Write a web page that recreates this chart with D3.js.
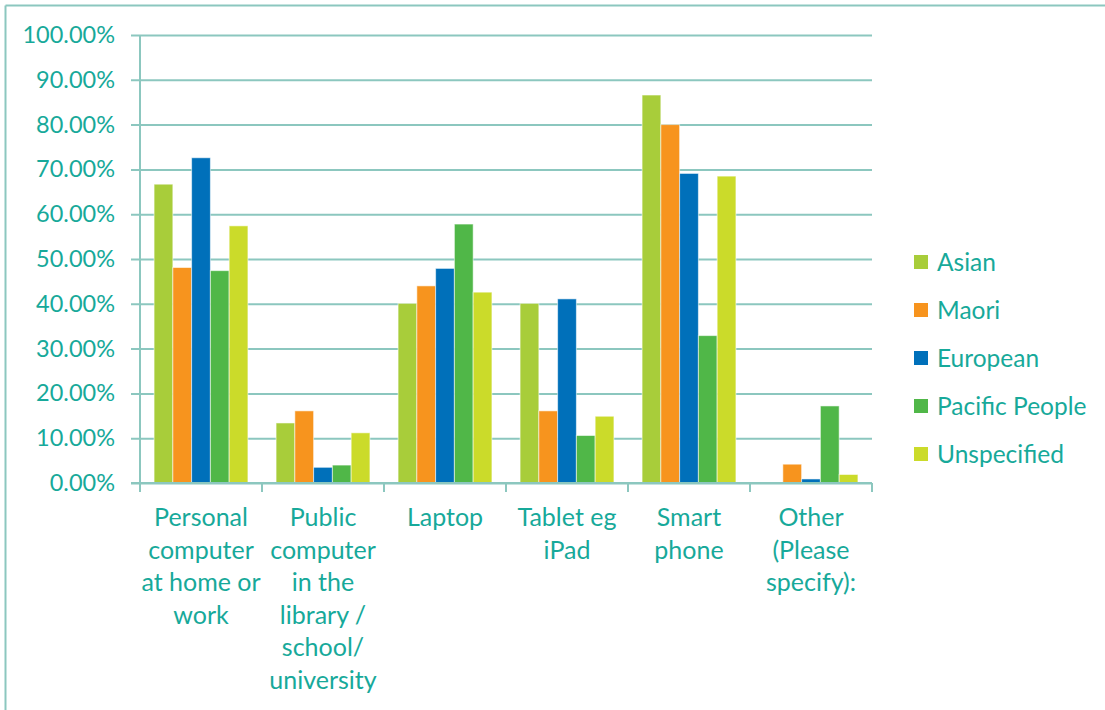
<!DOCTYPE html>
<html>
<head>
<meta charset="utf-8">
<script src="https://cdn.jsdelivr.net/npm/d3@7"></script>
<style>
  html, body { margin: 0; padding: 0; background: #fff; }
  svg { display: block; }
  text { font-family: Lato, "Open Sans", sans-serif; fill: #17A99A; }
</style>
</head>
<body>
<svg id="chart" width="1105" height="710"></svg>
<script>
// Device used to access the internet, by ethnicity (share of respondents)
const categories = [
  ["Personal", "computer", "at home or", "work"],
  ["Public", "computer", "in the", "library /", "school/", "university"],
  ["Laptop"],
  ["Tablet eg", "iPad"],
  ["Smart", "phone"],
  ["Other", "(Please", "specify):"]
];
const seriesNames = ["Asian", "Maori", "European", "Pacific People", "Unspecified"];
const seriesColors = ["#A8CD3A", "#F7941E", "#0070BA", "#50B748", "#CBDB2A"];

const asian       = [0.667, 0.134, 0.401, 0.401, 0.866, 0.000];
const maori       = [0.481, 0.161, 0.440, 0.161, 0.800, 0.042];
const european    = [0.726, 0.035, 0.479, 0.411, 0.691, 0.009];
const pacific     = [0.474, 0.040, 0.578, 0.106, 0.329, 0.172];
const unspecified = [0.574, 0.112, 0.426, 0.149, 0.685, 0.019];
const seriesValues = [asian, maori, european, pacific, unspecified];

const yTicks = [0, 0.1, 0.2, 0.3, 0.4, 0.5, 0.6, 0.7, 0.8, 0.9, 1.0];

const svg = d3.select("#chart");
const gridColor = "#8CC7BF";
const textColor = "#17A99A";

// outer frame (top and left edges visible)
svg.append("line").attr("x1", 5.5).attr("x2", 1105).attr("y1", 5.5).attr("y2", 5.5)
  .attr("stroke", gridColor).attr("stroke-width", 2);
svg.append("line").attr("x1", 5.5).attr("x2", 5.5).attr("y1", 5.5).attr("y2", 710)
  .attr("stroke", gridColor).attr("stroke-width", 2);

const plot = { left: 140, right: 872, top: 35, bottom: 483 };

const x0 = d3.scaleBand()
  .domain(d3.range(categories.length))
  .range([plot.left, plot.right])
  .paddingInner(0).paddingOuter(0);

const x1 = d3.scaleBand()
  .domain(d3.range(seriesNames.length))
  .range([0, x0.bandwidth()])
  .paddingInner(0).paddingOuter(0.75);

const y = d3.scaleLinear().domain([0, 1]).range([plot.bottom, plot.top]);

// horizontal gridlines with y axis labels
const yAxis = d3.axisLeft(y)
  .tickValues(yTicks)
  .tickFormat(d => (d * 100).toFixed(2) + "%")
  .tickSize(-(plot.right - plot.left))
  .tickPadding(25);

const gy = svg.append("g").attr("transform", `translate(${plot.left},0)`).call(yAxis);
gy.select(".domain").remove();
gy.selectAll(".tick line")
  .attr("x1", -9)
  .attr("stroke", gridColor).attr("stroke-width", 2);
gy.selectAll(".tick text")
  .attr("font-size", 23.5).attr("fill", textColor)
  .attr("font-family", "Lato, 'Open Sans', sans-serif");

// vertical axis line
svg.append("line")
  .attr("x1", plot.left).attr("x2", plot.left)
  .attr("y1", plot.top).attr("y2", plot.bottom + 9)
  .attr("stroke", gridColor).attr("stroke-width", 2);

// category separator ticks below the baseline
const sepPositions = d3.range(categories.length + 1).map(i =>
  i < categories.length ? x0(i) : x0(categories.length - 1) + x0.bandwidth());
svg.selectAll(".sep").data(sepPositions).enter().append("line")
  .attr("x1", d => d).attr("x2", d => d)
  .attr("y1", plot.bottom).attr("y2", plot.bottom + 9)
  .attr("stroke", gridColor).attr("stroke-width", 2);

// bars
const groups = svg.selectAll(".grp").data(categories.map((c, i) => i)).enter()
  .append("g").attr("transform", i => `translate(${x0(i)},0)`);

groups.selectAll("rect")
  .data(i => seriesValues.map((vals, s) => ({ s, v: vals[i] })))
  .enter().append("rect")
  .attr("x", d => x1(d.s))
  .attr("width", x1.bandwidth())
  .attr("y", d => y(d.v))
  .attr("height", d => y(0) - y(d.v))
  .attr("fill", d => seriesColors[d.s])
  .attr("stroke", "rgba(255,255,255,0.55)")
  .attr("stroke-width", 1);

// baseline redrawn over bars
svg.append("line")
  .attr("x1", plot.left - 9).attr("x2", plot.right)
  .attr("y1", plot.bottom).attr("y2", plot.bottom)
  .attr("stroke", gridColor).attr("stroke-width", 2);

// category labels (multi-line)
const lineH = 32.6;
categories.forEach((lines, i) => {
  const t = svg.append("text")
    .attr("text-anchor", "middle")
    .attr("font-size", 25)
    .attr("fill", textColor);
  lines.forEach((ln, k) => {
    t.append("tspan")
      .attr("x", x0(i) + x0.bandwidth() / 2)
      .attr("y", 526 + k * lineH)
      .text(ln);
  });
});

// legend
const legend = svg.append("g");
seriesNames.forEach((name, s) => {
  const cy = 262 + s * 48;
  legend.append("rect")
    .attr("x", 914).attr("y", cy - 7)
    .attr("width", 14).attr("height", 14)
    .attr("fill", seriesColors[s]);
  legend.append("text")
    .attr("x", 937).attr("y", cy + 8.5)
    .attr("font-size", 24.5)
    .attr("fill", textColor)
    .text(name);
});
</script>
</body>
</html>
